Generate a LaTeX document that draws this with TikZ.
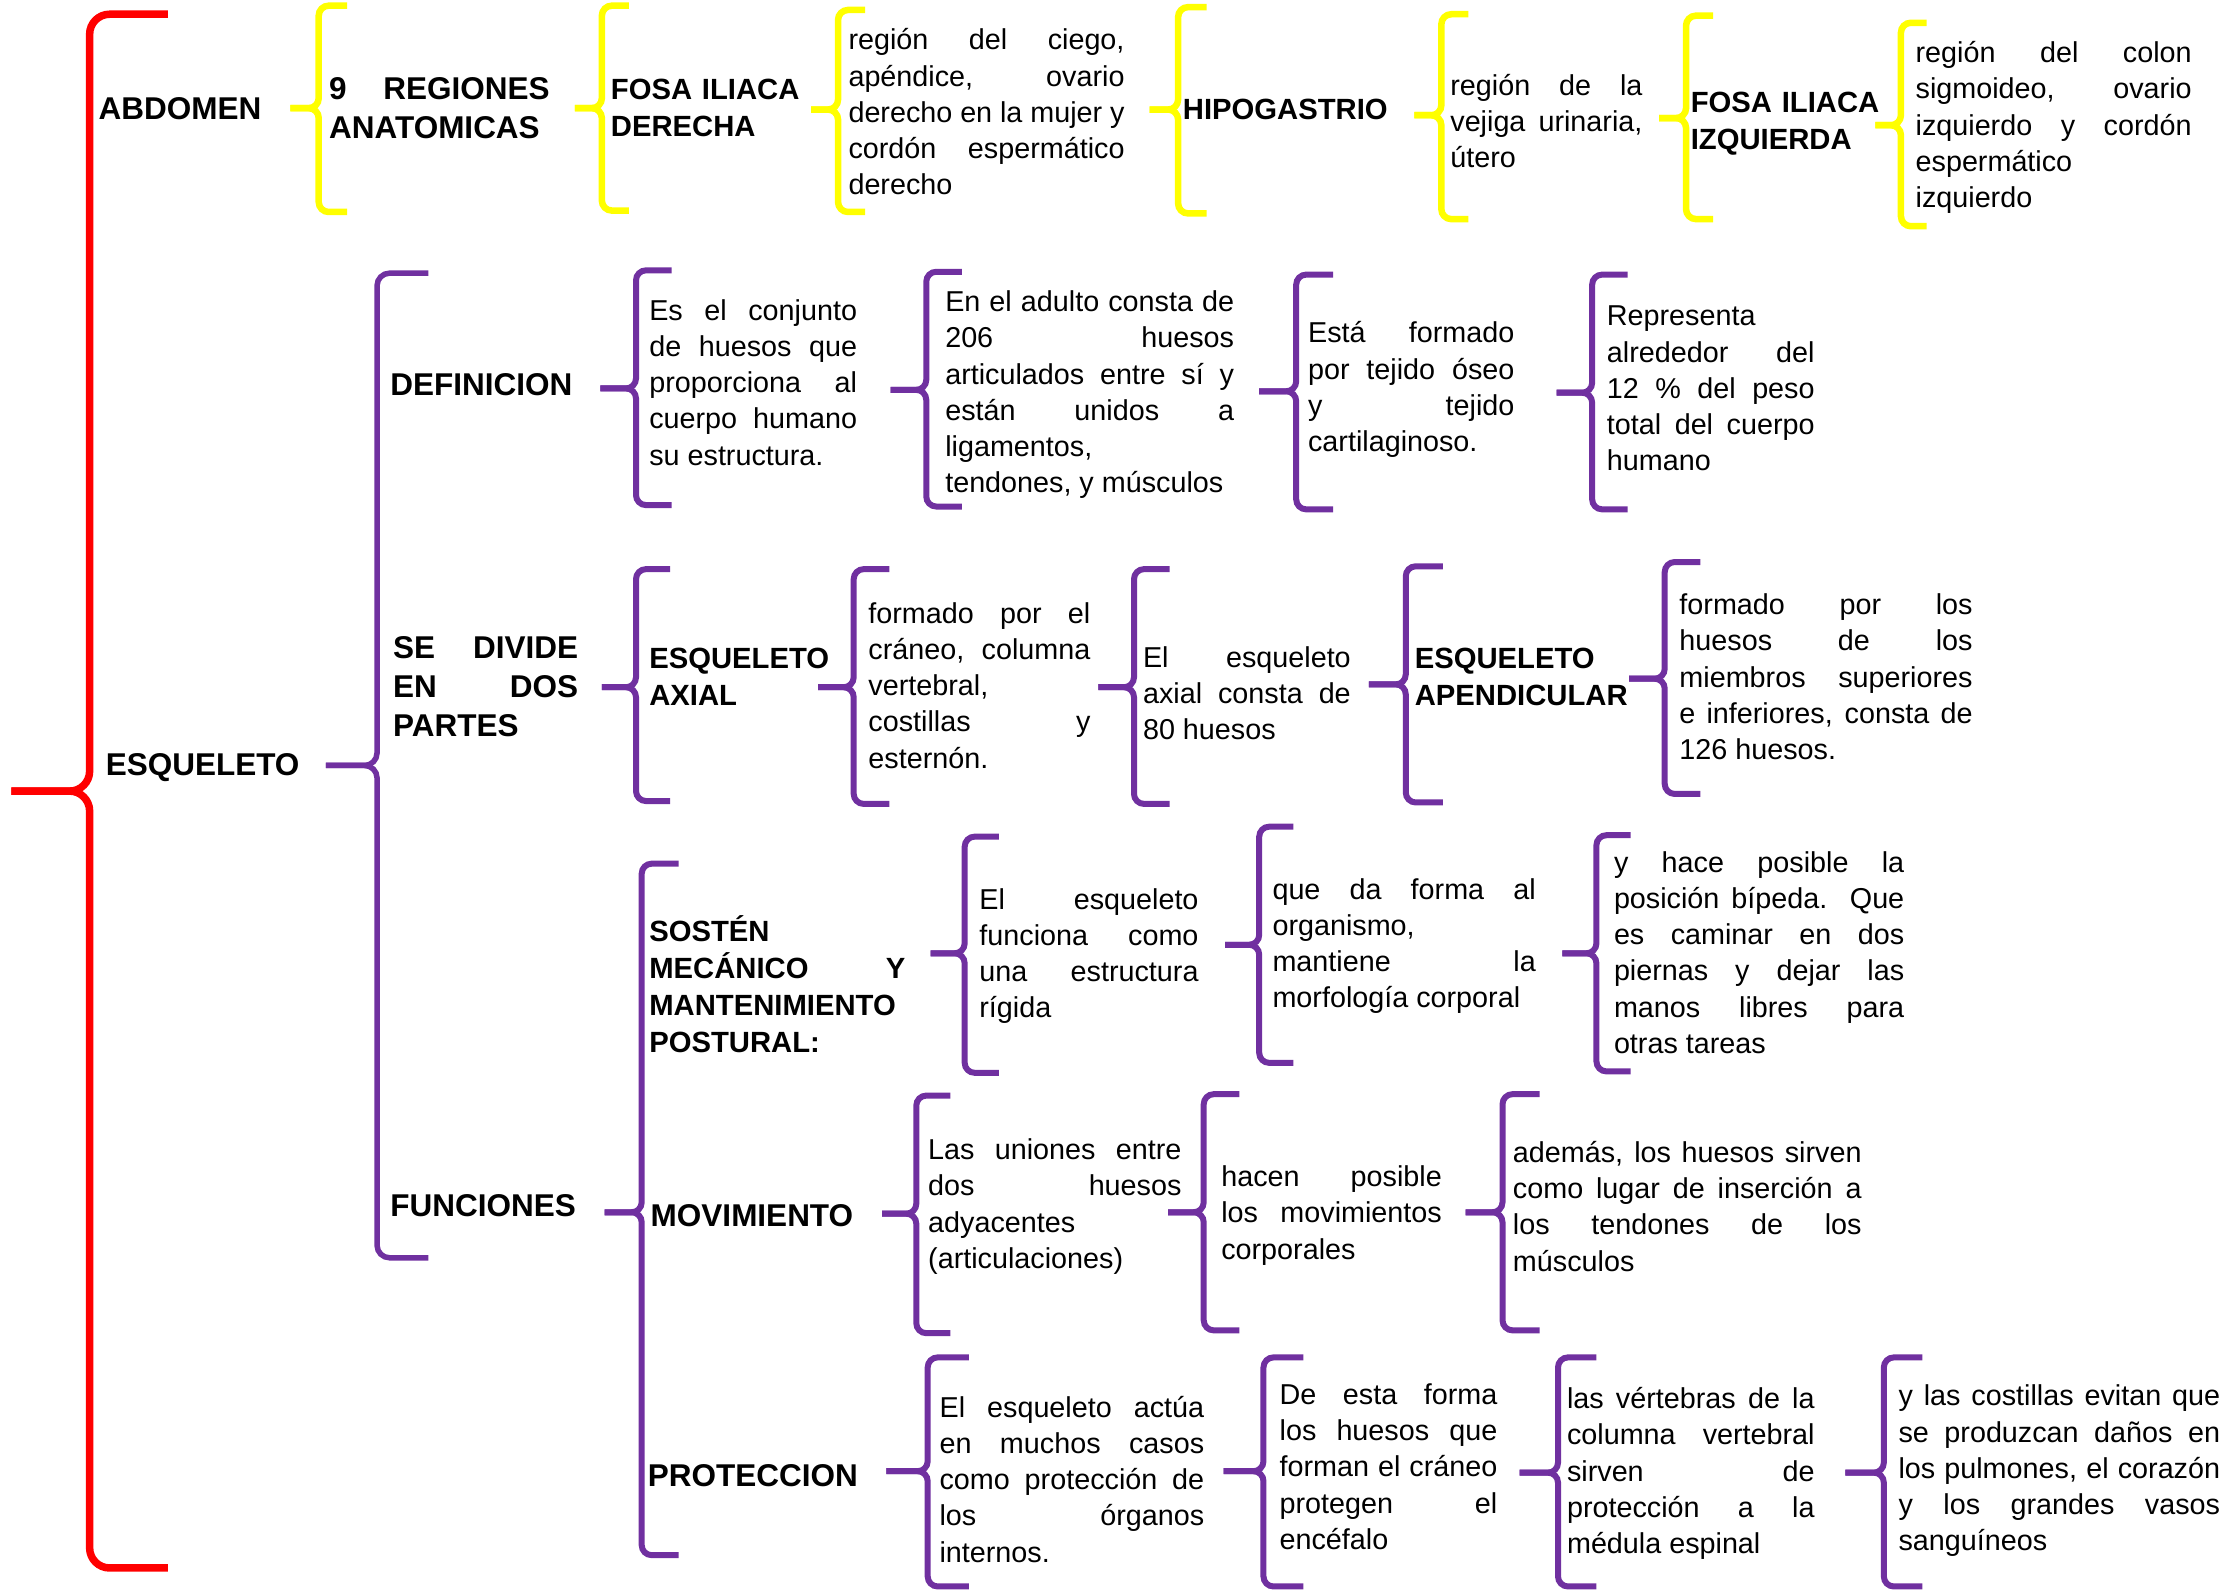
\documentclass[tikz,border=0pt]{standalone}
\usepackage{fontspec}
\setmainfont{Liberation Sans}
\hbadness=10000

\definecolor{morado}{HTML}{7030A0}
\definecolor{amarillo}{HTML}{FFFF00}
\definecolor{rojo}{HTML}{FF0000}

\tikzset{
  llave/.style={morado, line width=2.4pt, rounded corners=4pt},
  txt/.style={anchor=base west, inner sep=0pt, align=justify,
    font=\fontsize{11.5}{14.5}\selectfont},
  tit/.style={anchor=base west, inner sep=0pt, align=left,
    font=\bfseries\fontsize{11.7}{14.7}\selectfont},
  big/.style={anchor=base west, inner sep=0pt, align=left,
    font=\bfseries\fontsize{12.6}{15.5}\selectfont},
  ancho/.style={text width=#1*0.02cm}
}

% llave: [estilo]{x}{arriba}{abajo}{x punta}{y punta}
\newcommand{\llave}[6][]{%
  \draw[llave,#1] (#2+#2-#5,#3) -- (#2,#3) -- (#2,#6) -- (#5,#6);
  \draw[llave,#1] (#2+#2-#5,#4) -- (#2,#4) -- (#2,#6) -- (#5,#6);
}

\begin{document}
\begin{tikzpicture}[x=0.02cm, y=-0.02cm]
    \useasboundingbox (0,0) rectangle (1568,1118);

    % abdomen
    \llave[rojo, line width=3pt, rounded corners=8pt]{63}{10}{1102}{8}{556}
    \node[big] (abdomen) at (69,84) {ABDOMEN};
    \llave[amarillo, line width=2.6pt]{224}{4}{149}{204}{76}
    \node[big, ancho=155, align=justify] (regiones) at (231,70)
        {9 REGIONES\linebreak ANATOMICAS};
    \llave[amarillo, line width=2.6pt]{423}{4}{148}{404}{76}
    \node[tit, ancho=140] (fosader) at (429,70) {FOSA ILIACA\\DERECHA};
    \llave[amarillo, line width=2.6pt]{589}{7}{149}{570}{77}
    \node[txt, ancho=194] (ciego) at (596,35)
        {región del ciego,\linebreak apéndice, ovario\linebreak
         derecho en la mujer y\linebreak cordón espermático\linebreak derecho};
    \llave[amarillo, line width=2.6pt]{828}{5}{150}{808}{77}
    \node[tit] (hipo) at (831,84) {HIPOGASTRIO};
    \llave[amarillo, line width=2.6pt]{1013}{10}{154}{994}{81}
    \node[txt, ancho=135] (vejiga) at (1019,67)
        {región de la\linebreak vejiga urinaria,\linebreak útero};
    \llave[amarillo, line width=2.6pt]{1185}{11}{154}{1166}{83}
    \node[tit, ancho=140] (fosaizq) at (1188,79) {FOSA ILIACA\\IZQUIERDA};
    \llave[amarillo, line width=2.6pt]{1336}{16}{159}{1318}{88}
    \node[txt, ancho=194] (colon) at (1346,44)
        {región del colon\linebreak sigmoideo, ovario\linebreak
         izquierdo y cordón\linebreak espermático\linebreak izquierdo};

    % esqueleto
    \node[big] (esq) at (74,545) {ESQUELETO};
    \llave[line width=2.2pt, rounded corners=5pt]{265}{192}{884}{229}{538}

    % definicion
    \node[big] (defin) at (274,278) {DEFINICION};
    \llave{447}{190}{355}{422}{273}
    \node[txt, ancho=146] (conjunto) at (456,225)
        {Es el conjunto\linebreak de huesos que\linebreak proporciona al\linebreak
         cuerpo humano\linebreak su estructura.};
    \llave{651}{191}{356}{626}{274}
    \node[txt, ancho=203] (adulto) at (664,219)
        {En el adulto consta de\linebreak 206 huesos\linebreak
         articulados entre sí y\linebreak están unidos a\linebreak
         ligamentos,\linebreak tendones, y músculos};
    \llave{911}{193}{358}{885}{275}
    \node[txt, ancho=145] (tejido) at (919,241)
        {Está formado\linebreak por tejido óseo\linebreak y tejido\linebreak
         cartilaginoso.};
    \llave{1119}{193}{358}{1094}{276}
    \node[txt, ancho=146] (peso) at (1129,229)
        {Representa\linebreak alrededor del\linebreak 12 \% del peso\linebreak
         total del cuerpo\linebreak humano};

    % se divide
    \node[big, ancho=130, align=justify] (divide) at (276,463)
        {SE DIVIDE\linebreak EN DOS\linebreak PARTES};
    \llave{447}{400}{563}{423}{483}
    \node[tit, ancho=130] (axial) at (456,470) {ESQUELETO\\AXIAL};
    \llave{600}{400}{565}{575}{483}
    \node[txt, ancho=156] (formaax) at (610,438)
        {formado por el\linebreak cráneo, columna\linebreak vertebral,\linebreak
         costillas y\linebreak esternón.};
    \llave{797}{400}{565}{772}{483}
    \node[txt, ancho=146] (ochenta) at (803,469)
        {El esqueleto\linebreak axial consta de\linebreak 80 huesos};
    \llave{988}{398}{564}{962}{481}
    \node[tit, ancho=160] (apend) at (994,470) {ESQUELETO\\APENDICULAR};
    \llave{1170}{395}{558}{1145}{477}
    \node[txt, ancho=206] (miembros) at (1180,432)
        {formado por los\linebreak huesos de los\linebreak
         miembros superiores\linebreak e inferiores, consta de\linebreak
         126 huesos.};

    % funciones
    \node[big] (funciones) at (274,855) {FUNCIONES};
    \llave{451}{607}{1093}{425}{852}

    \node[tit, ancho=180, align=justify] (sosten) at (456,662)
        {SOSTÉN\linebreak MECÁNICO Y\linebreak MANTENIMIENTO\linebreak POSTURAL:};
    \llave{678}{588}{754}{654}{670}
    \node[txt, ancho=154] (rigida) at (688,639)
        {El esqueleto\linebreak funciona como\linebreak una estructura\linebreak rígida};
    \llave{885}{581}{747}{861}{664}
    \node[txt, ancho=185] (morfo) at (894,632)
        {que da forma al\linebreak organismo,\linebreak mantiene la\linebreak
         morfología corporal};
    \llave{1122}{587}{753}{1098}{670}
    \node[txt, ancho=204] (bipeda) at (1134,613)
        {y hace posible la\linebreak posición bípeda. Que\linebreak
         es caminar en dos\linebreak piernas y dejar las\linebreak
         manos libres para\linebreak otras tareas};

    \node[big] (movim) at (457,862) {MOVIMIENTO};
    \llave{644}{770}{937}{620}{853}
    \node[txt, ancho=178] (uniones) at (652,815)
        {Las uniones entre\linebreak dos huesos\linebreak adyacentes\linebreak
         (articulaciones)};
    \llave{846}{769}{935}{821}{852}
    \node[txt, ancho=155] (posible) at (858,834)
        {hacen posible\linebreak los movimientos\linebreak corporales};
    \llave{1056}{769}{935}{1030}{852}
    \node[txt, ancho=245] (insercion) at (1063,817)
        {además, los huesos sirven\linebreak como lugar de inserción a\linebreak
         los tendones de los\linebreak músculos};

    \node[big] (protec) at (455,1045) {PROTECCION};
    \llave{652}{954}{1115}{623}{1034}
    \node[txt, ancho=186] (actua) at (660,996)
        {El esqueleto actúa\linebreak en muchos casos\linebreak
         como protección de\linebreak los órganos\linebreak internos.};
    \llave{888}{954}{1115}{860}{1034}
    \node[txt, ancho=153] (craneo) at (899,987)
        {De esta forma\linebreak los huesos que\linebreak forman el cráneo\linebreak
         protegen el\linebreak encéfalo};
    \llave{1095}{954}{1115}{1068}{1035}
    \node[txt, ancho=174] (vertebras) at (1101,990)
        {las vértebras de la\linebreak columna vertebral\linebreak sirven de\linebreak
         protección a la\linebreak médula espinal};
    \llave{1324}{954}{1115}{1297}{1035}
    \node[txt, ancho=226] (costillas) at (1334,988)
        {y las costillas evitan que\linebreak se produzcan daños en\linebreak
         los pulmones, el corazón\linebreak y los grandes vasos\linebreak sanguíneos};
\end{tikzpicture}
\end{document}
